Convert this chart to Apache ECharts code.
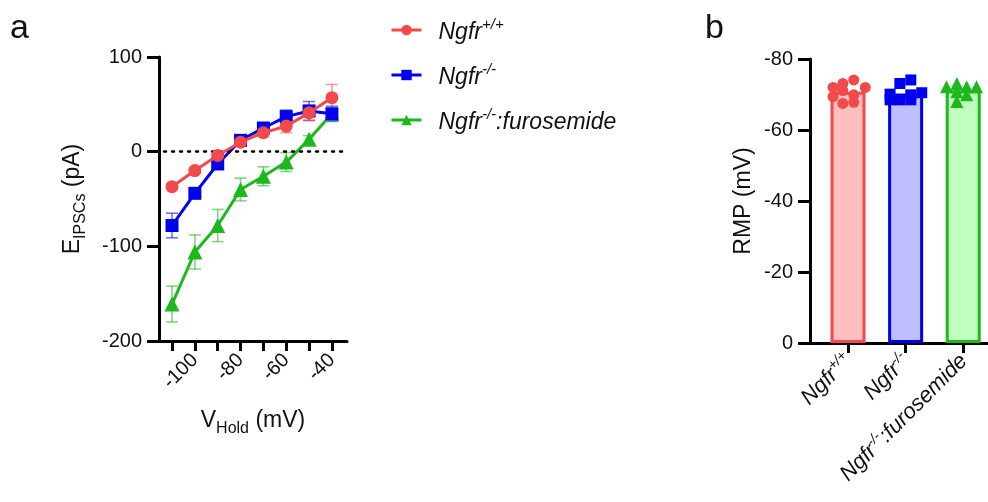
<!DOCTYPE html>
<html>
<head>
<meta charset="utf-8">
<script src="https://cdn.jsdelivr.net/npm/echarts@6/dist/echarts.min.js"></script>
<style>
html,body{margin:0;padding:0;background:#fff;}
#chart{width:988px;height:502px;}
</style>
</head>
<body>
<div id="chart"></div>
<script>
// ---------- Data: panel a ----------
const vHold = [-110, -100, -90, -80, -70, -60, -50, -40];
const xTickValues = [-110, -100, -90, -80, -70, -60, -50, -40];
const xLabelValues = [-100, -80, -60, -40];
const wtMean   = [-37, -20, -4, 10, 20, 27, 41, 57];
const wtErr    = [3, 3, 3, 3, 4, 7, 8, 14];
const koMean   = [-78, -44, -13, 12, 25, 37, 43, 40];
const koErr    = [13, 5, 3, 4, 4, 7, 10, 8];
const furoMean = [-161, -106, -78, -40, -26, -11, 13, 40];
const furoErr  = [19, 18, 17, 12, 10, 10, 4, 6];

// ---------- Data: panel b ----------
const groups   = ['Ngfr+/+', 'Ngfr-/-', 'Ngfr-/-:furosemide'];
const rmpMean  = [-70.8, -70.3, -71.2];
const rmpWt    = [-72, -73.1, -74.1, -72, -71.1, -69.9, -69.4, -67.5, -67.8];
const jitWt    = [-0.26, -0.09, 0.1, 0.3, -0.09, 0.1, -0.26, -0.09, 0.1];
const rmpKo    = [-74.1, -73.1, -70.1, -70.5, -69.9, -68.5, -68.5, -68.5];
const jitKo    = [0.09, -0.1, -0.27, 0.28, 0.09, -0.1, 0.09, -0.27];
const rmpFuro  = [-72.2, -73.1, -72.2, -72.2, -70.8, -69.9, -68];
const jitFuro  = [-0.29, -0.11, 0.06, 0.23, -0.11, 0.06, -0.11];

// ---------- Styles ----------
const FONT = 'Liberation Sans, Arial, sans-serif';
const RED = '#f24a4a', BLUE = '#0000f0', GREEN = '#1cb81c';
const REDF = '#ffbfbf', BLUEF = '#bfbfff', GREENF = '#bfffbf';

function makeRich(size, supSize, raise) {
  return {
    n: {fontFamily: FONT, fontStyle: 'italic', fontSize: size, color: '#111', verticalAlign: 'bottom'},
    s: {fontFamily: FONT, fontStyle: 'italic', fontSize: supSize, color: '#111', verticalAlign: 'bottom', padding: [0, 0, raise, 0]}
  };
}
function richName(name) {
  const m = name.match(/^Ngfr([+\-]\/[+\-])(.*)$/);
  if (!m) return name;
  return '{n|Ngfr}{s|' + m[1] + '}' + (m[2] ? '{n|' + m[2] + '}' : '');
}

const chart = echarts.init(document.getElementById('chart'), null, {renderer: 'canvas'});

function errRender(color) {
  return function (params, api) {
    const x = api.value(0), y = api.value(1), e = api.value(2);
    const t = api.coord([x, y + e]), b = api.coord([x, y - e]);
    const hw = 6;
    const st = {stroke: color, lineWidth: 1.6, opacity: 0.55};
    return {type: 'group', children: [
      {type: 'line', shape: {x1: t[0], y1: t[1], x2: b[0], y2: b[1]}, style: st},
      {type: 'line', shape: {x1: t[0] - hw, y1: t[1], x2: t[0] + hw, y2: t[1]}, style: st},
      {type: 'line', shape: {x1: b[0] - hw, y1: b[1], x2: b[0] + hw, y2: b[1]}, style: st}
    ]};
  };
}
function pairs(xs, ys) { return xs.map((x, i) => [x, ys[i]]); }
function triples(xs, ys, es) { return xs.map((x, i) => [x, ys[i], es[i]]); }

const axisLineStyle = {onZero: false, lineStyle: {color: '#000', width: 3}};
const labelBase = {fontFamily: FONT, fontSize: 20, color: '#111'};
const subRich = {
  m: {fontFamily: FONT, fontSize: 23, color: '#111', verticalAlign: 'bottom', padding: [0, 0, 5, 0]},
  sub: {fontFamily: FONT, fontSize: 16, color: '#111', verticalAlign: 'bottom'}
};

const option = {
  animation: false,
  backgroundColor: '#fff',
  textStyle: {fontFamily: FONT},
  graphic: [
    {type: 'text', left: 10, top: 12, style: {text: 'a', fontFamily: FONT, fontSize: 34, fill: '#111'}},
    {type: 'text', left: 705, top: 12, style: {text: 'b', fontFamily: FONT, fontSize: 34, fill: '#111'}}
  ],
  legend: {
    orient: 'vertical', left: 385, top: 11,
    itemWidth: 30, itemHeight: 13, itemGap: 17,
    data: ['Ngfr+/+', 'Ngfr-/-', 'Ngfr-/-:furosemide'],
    formatter: richName,
    lineStyle: {width: 3},
    textStyle: {rich: makeRich(23, 15, 12), lineHeight: 28, padding: [0, 0, 0, 12]}
  },
  grid: [
    {left: 159, top: 57, width: 188, height: 284, containLabel: false},
    {left: 810, top: 59, width: 178, height: 284, containLabel: false}
  ],
  xAxis: [
    {
      gridIndex: 0, type: 'value', min: -115.7, max: -33.4,
      axisLine: axisLineStyle,
      axisTick: {show: true, length: 10, customValues: xTickValues, lineStyle: {color: '#000', width: 3}},
      axisLabel: Object.assign({}, labelBase, {rotate: 45, margin: 16, customValues: xLabelValues}),
      splitLine: {show: false},
      name: '{m|V}{sub|Hold}{m| (mV)}', nameLocation: 'middle', nameGap: 68,
      nameTextStyle: {rich: subRich}
    },
    {
      gridIndex: 1, type: 'value', min: 0.34, max: 3.43,
      axisLine: axisLineStyle,
      axisTick: {show: true, length: 10, customValues: [1, 2, 3], lineStyle: {color: '#000', width: 3}},
      axisLabel: {rotate: 45, margin: 14, customValues: [1, 2, 3],
        formatter: v => richName(groups[Math.round(v) - 1]), rich: makeRich(22, 14, 10)},
      splitLine: {show: false}
    }
  ],
  yAxis: [
    {
      gridIndex: 0, type: 'value', min: -200, max: 100, interval: 100,
      axisLine: axisLineStyle,
      axisTick: {show: true, length: 12, lineStyle: {color: '#000', width: 3}},
      axisLabel: Object.assign({}, labelBase, {margin: 17}),
      splitLine: {show: false},
      name: '{m|E}{sub|IPSCs}{m| (pA)}', nameLocation: 'middle', nameGap: 70, nameRotate: 90,
      nameTextStyle: {rich: subRich}
    },
    {
      gridIndex: 1, type: 'value', min: -80, max: 0, interval: 20, inverse: true,
      axisLine: axisLineStyle,
      axisTick: {show: true, length: 12, lineStyle: {color: '#000', width: 3}},
      axisLabel: Object.assign({}, labelBase, {margin: 17}),
      splitLine: {show: false},
      name: 'RMP (mV)', nameLocation: 'middle', nameGap: 55, nameRotate: 90,
      nameTextStyle: {fontFamily: FONT, fontSize: 23, color: '#111'}
    }
  ],
  series: [
    // error bars (panel a)
    {type: 'custom', xAxisIndex: 0, yAxisIndex: 0, renderItem: errRender(GREEN), data: triples(vHold, furoMean, furoErr), z: 2, silent: true},
    {type: 'custom', xAxisIndex: 0, yAxisIndex: 0, renderItem: errRender(BLUE), data: triples(vHold, koMean, koErr), z: 3, silent: true},
    {type: 'custom', xAxisIndex: 0, yAxisIndex: 0, renderItem: errRender(RED), data: triples(vHold, wtMean, wtErr), z: 4, silent: true},
    {
      name: 'Ngfr-/-:furosemide', type: 'line', xAxisIndex: 0, yAxisIndex: 0,
      data: pairs(vHold, furoMean), symbol: 'triangle', symbolSize: 15, z: 3,
      lineStyle: {color: GREEN, width: 3}, itemStyle: {color: GREEN},
      markLine: {silent: true, symbol: 'none', label: {show: false},
        lineStyle: {color: '#000', type: [2, 6], width: 2.5, cap: 'round'},
        data: [[{coord: [-113.5, 0]}, {coord: [-33.4, 0]}]]}
    },
    {
      name: 'Ngfr-/-', type: 'line', xAxisIndex: 0, yAxisIndex: 0,
      data: pairs(vHold, koMean), symbol: 'rect', symbolSize: 13, z: 4,
      lineStyle: {color: BLUE, width: 3}, itemStyle: {color: BLUE}
    },
    {
      name: 'Ngfr+/+', type: 'line', xAxisIndex: 0, yAxisIndex: 0,
      data: pairs(vHold, wtMean), symbol: 'circle', symbolSize: 13, z: 5,
      lineStyle: {color: RED, width: 3}, itemStyle: {color: RED}
    },
    // panel b
    {
      type: 'bar', xAxisIndex: 1, yAxisIndex: 1, barWidth: 35,
      data: [
        {value: [1, rmpMean[0]], itemStyle: {color: REDF, borderColor: RED, borderWidth: 3}},
        {value: [2, rmpMean[1]], itemStyle: {color: BLUEF, borderColor: BLUE, borderWidth: 3}},
        {value: [3, rmpMean[2]], itemStyle: {color: GREENF, borderColor: GREEN, borderWidth: 3}}
      ], z: 2
    },
    {type: 'scatter', xAxisIndex: 1, yAxisIndex: 1, symbol: 'circle', symbolSize: 11,
      itemStyle: {color: RED, opacity: 1}, data: rmpWt.map((v, i) => [1 + jitWt[i], v]), z: 3},
    {type: 'scatter', xAxisIndex: 1, yAxisIndex: 1, symbol: 'rect', symbolSize: 11,
      itemStyle: {color: BLUE, opacity: 1}, data: rmpKo.map((v, i) => [2 + jitKo[i], v]), z: 3},
    {type: 'scatter', xAxisIndex: 1, yAxisIndex: 1, symbol: 'triangle', symbolSize: 13,
      itemStyle: {color: GREEN, opacity: 1}, data: rmpFuro.map((v, i) => [3 + jitFuro[i], v]), z: 3}
  ]
};
chart.setOption(option);
</script>
</body>
</html>
